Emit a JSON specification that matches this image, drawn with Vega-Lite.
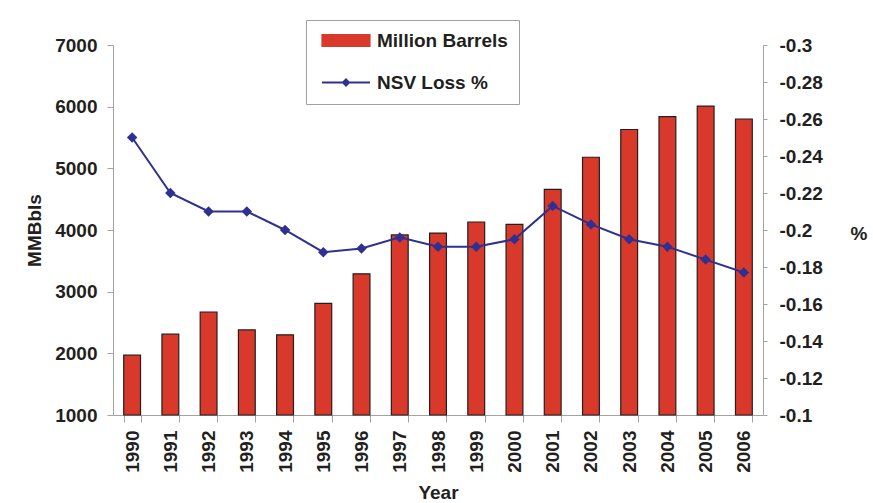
{
  "$schema": "https://vega.github.io/schema/vega-lite/v6.json",
  "width": 650,
  "height": 370,
  "autosize": {"type": "none"},
  "padding": {"left": 113, "top": 45, "right": 110, "bottom": 88},
  "background": "white",
  "config": {
    "font": "Liberation Sans",
    "view": {"stroke": null},
    "axis": {
      "grid": false,
      "domainColor": "#a3a3a3",
      "tickColor": "#a3a3a3",
      "labelFont": "Liberation Sans",
      "labelFontWeight": "bold",
      "labelFontSize": 19,
      "labelColor": "#231f20",
      "titleFont": "Liberation Sans",
      "titleFontWeight": "bold",
      "titleFontSize": 19,
      "titleColor": "#231f20"
    }
  },
  "data": {
    "values": [
      {"year": "1990", "mmbbl": 1970, "nsv": -0.250},
      {"year": "1991", "mmbbl": 2310, "nsv": -0.220},
      {"year": "1992", "mmbbl": 2670, "nsv": -0.210},
      {"year": "1993", "mmbbl": 2380, "nsv": -0.210},
      {"year": "1994", "mmbbl": 2300, "nsv": -0.200},
      {"year": "1995", "mmbbl": 2810, "nsv": -0.188},
      {"year": "1996", "mmbbl": 3290, "nsv": -0.190},
      {"year": "1997", "mmbbl": 3920, "nsv": -0.196},
      {"year": "1998", "mmbbl": 3950, "nsv": -0.191},
      {"year": "1999", "mmbbl": 4130, "nsv": -0.191},
      {"year": "2000", "mmbbl": 4090, "nsv": -0.195},
      {"year": "2001", "mmbbl": 4660, "nsv": -0.213},
      {"year": "2002", "mmbbl": 5180, "nsv": -0.203},
      {"year": "2003", "mmbbl": 5630, "nsv": -0.195},
      {"year": "2004", "mmbbl": 5840, "nsv": -0.191},
      {"year": "2005", "mmbbl": 6010, "nsv": -0.184},
      {"year": "2006", "mmbbl": 5800, "nsv": -0.177}
    ]
  },
  "encoding": {
    "x": {
      "field": "year",
      "type": "ordinal",
      "scale": {"paddingInner": 0.56, "paddingOuter": 0.28},
      "axis": {
        "title": "Year",
        "labelAngle": -90,
        "tickBand": "extent",
        "tickSize": 7,
        "labelPadding": 8,
        "titleY": 87,
        "titleBaseline": "bottom"
      }
    }
  },
  "layer": [
    {
      "mark": {"type": "bar", "stroke": "#231f20", "strokeWidth": 1.2},
      "encoding": {
        "y": {
          "field": "mmbbl",
          "type": "quantitative",
          "scale": {"domain": [1000, 7000], "zero": false, "nice": false},
          "axis": {
            "title": "MMBbls",
            "values": [1000, 2000, 3000, 4000, 5000, 6000, 7000],
            "format": "d",
            "tickSize": 6,
            "labelPadding": 10,
            "titlePadding": 10
          }
        },
        "y2": {"datum": 1000},
        "color": {
          "datum": "Million Barrels",
          "type": "nominal",
          "scale": {"domain": ["Million Barrels", "NSV Loss %"], "range": ["#d9392b", "#2e3192"]},
          "legend": {
            "title": null,
            "orient": "none",
            "legendX": 193,
            "legendY": -25,
            "padding": 11,
            "strokeColor": "#a0a0a0",
            "fillColor": "white",
            "labelFont": "Liberation Sans",
            "labelFontWeight": "bold",
            "labelFontSize": 19,
            "labelColor": "#231f20",
            "symbolSize": 400,
            "symbolOffset": 19.5,
            "labelOffset": 21.5,
            "rowPadding": 22,
            "encoding": {
              "symbols": {
                "shape": {"value": {"expr": "datum.value === 'Million Barrels' ? 'M-2.4,-0.6H2.4V0.6H-2.4Z' : 'M-2.4,0H2.4M-0.3,0L0,-0.3L0.3,0L0,0.3Z'"}},
                "fill": {"value": {"expr": "datum.value === 'Million Barrels' ? '#d9392b' : '#2e3192'"}},
                "stroke": {"value": {"expr": "datum.value === 'Million Barrels' ? '#231f20' : '#2e3192'"}},
                "strokeWidth": {"value": {"expr": "datum.value === 'Million Barrels' ? 1.2 : 2"}},
                "opacity": {"value": 1},
                "fillOpacity": {"value": 1}
              }
            }
          }
        }
      }
    },
    {
      "mark": {"type": "line", "strokeWidth": 2, "point": {"shape": "diamond", "filled": true, "size": 110, "opacity": 1}},
      "encoding": {
        "y": {
          "field": "nsv",
          "type": "quantitative",
          "scale": {"domain": [-0.3, -0.1], "reverse": true, "zero": false, "nice": false},
          "axis": {
            "orient": "right",
            "title": "%",
            "titleAngle": 0,
            "titleAlign": "left",
            "titleBaseline": "middle",
            "titleX": 87,
            "titleY": 188,
            "values": [-0.3, -0.28, -0.26, -0.24, -0.22, -0.2, -0.18, -0.16, -0.14, -0.12, -0.1],
            "labelExpr": "'-' + format(abs(datum.value), '~g')",
            "tickSize": 4,
            "labelPadding": 12
          }
        },
        "color": {"datum": "NSV Loss %", "type": "nominal"}
      }
    }
  ],
  "resolve": {"scale": {"y": "independent"}}
}
